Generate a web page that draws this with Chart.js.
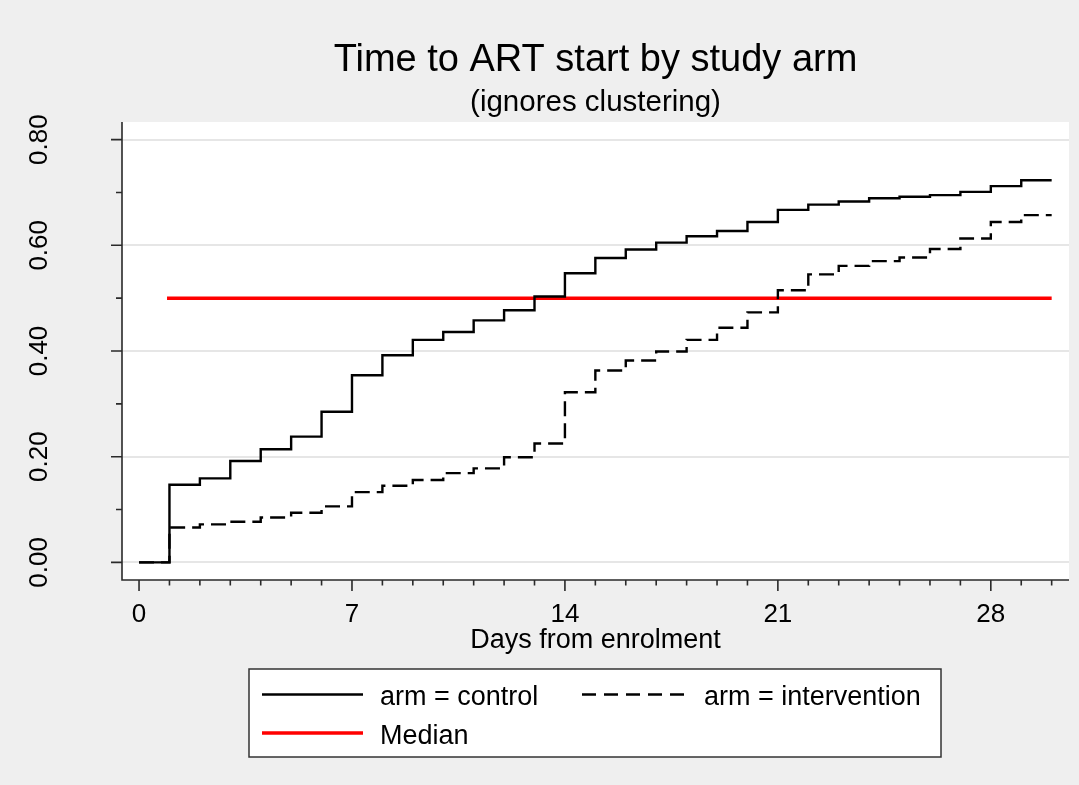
<!DOCTYPE html>
<html>
<head>
<meta charset="utf-8">
<script src="https://cdn.jsdelivr.net/npm/chart.js@4/dist/chart.umd.min.js"></script>
<style>
  html, body { margin: 0; padding: 0; background: #efefef; }
  #wrap { width: 1079px; height: 785px; position: relative; }
</style>
</head>
<body>
<div id="wrap"><canvas id="chart" width="1079" height="785"></canvas></div>
<script>
// ---------- data ----------
const days = [0,1,2,3,4,5,6,7,8,9,10,11,12,13,14,15,16,17,18,19,20,21,22,23,24,25,26,27,28,29,30];
const controlRisk = [0,0.147,0.159,0.192,0.214,0.238,0.285,0.354,0.392,0.421,0.436,0.458,0.477,0.503,0.547,0.576,0.592,0.605,0.617,0.627,0.644,0.667,0.677,0.683,0.689,0.692,0.695,0.701,0.712,0.723,0.723];
const interventionRisk = [0,0.066,0.072,0.077,0.085,0.094,0.106,0.133,0.145,0.156,0.169,0.178,0.199,0.225,0.322,0.363,0.382,0.399,0.421,0.444,0.473,0.515,0.545,0.561,0.570,0.577,0.593,0.613,0.644,0.657,0.657];
const medianDays = [0.92, 30];
const medianValues = [0.5, 0.5];

const xMajorTicks = [0, 7, 14, 21, 28];
const xMinorTicks = [1,2,3,4,5,6,8,9,10,11,12,13,15,16,17,18,19,20,22,23,24,25,26,27,29,30];
const yMajorTicks = [0, 0.2, 0.4, 0.6, 0.8];
const yTickLabels = ['0.00', '0.20', '0.40', '0.60', '0.80'];
const yMinorTicks = [0.1, 0.3, 0.5, 0.7];

const titleText = 'Time to ART start by study arm';
const subtitleText = '(ignores clustering)';
const xAxisTitle = 'Days from enrolment';
const seriesLabels = ['arm = control', 'arm = intervention', 'Median'];

// ---------- build datasets ----------
const toPoints = (xs, ys) => xs.map((x, i) => ({ x: x, y: ys[i] }));
const FONT = "'Liberation Sans', Arial, Helvetica, sans-serif";

const bgPlugin = {
  id: 'bg',
  beforeDraw(chart) {
    const { ctx, chartArea: a } = chart;
    ctx.save();
    ctx.fillStyle = '#efefef';
    ctx.fillRect(0, 0, chart.width, chart.height);
    ctx.fillStyle = '#ffffff';
    ctx.fillRect(a.left, a.top, a.right - a.left, a.bottom - a.top);
    ctx.restore();
  }
};

const decorPlugin = {
  id: 'decor',
  afterDraw(chart) {
    const { ctx, chartArea: a } = chart;
    const xs = chart.scales.x, ys = chart.scales.y;
    ctx.save();
    // axis lines
    ctx.strokeStyle = '#2a2a2a';
    ctx.lineWidth = 1.6;
    ctx.beginPath();
    ctx.moveTo(a.left, a.top);
    ctx.lineTo(a.left, a.bottom);
    ctx.lineTo(a.right, a.bottom);
    ctx.stroke();
    // y ticks
    ctx.beginPath();
    yMajorTicks.forEach(v => { const p = ys.getPixelForValue(v); ctx.moveTo(a.left - 11, p); ctx.lineTo(a.left, p); });
    yMinorTicks.forEach(v => { const p = ys.getPixelForValue(v); ctx.moveTo(a.left - 6, p); ctx.lineTo(a.left, p); });
    // x ticks
    xMajorTicks.forEach(v => { const p = xs.getPixelForValue(v); ctx.moveTo(p, a.bottom); ctx.lineTo(p, a.bottom + 11); });
    xMinorTicks.forEach(v => { const p = xs.getPixelForValue(v); ctx.moveTo(p, a.bottom); ctx.lineTo(p, a.bottom + 5.5); });
    ctx.stroke();

    ctx.fillStyle = '#000';
    // x tick labels
    ctx.font = '26px ' + FONT;
    ctx.textAlign = 'center';
    ctx.textBaseline = 'alphabetic';
    xMajorTicks.forEach(v => ctx.fillText(String(v), xs.getPixelForValue(v), a.bottom + 42));
    // y tick labels (rotated)
    yMajorTicks.forEach((v, i) => {
      const p = ys.getPixelForValue(v);
      ctx.save();
      ctx.translate(46.5, p);
      ctx.rotate(-Math.PI / 2);
      ctx.fillText(yTickLabels[i], 0, 0);
      ctx.restore();
    });
    // x axis title
    const cx = (a.left + a.right) / 2;
    ctx.font = '27px ' + FONT;
    ctx.fillText(xAxisTitle, cx, 648);
    // title & subtitle
    ctx.font = '38px ' + FONT;
    ctx.fillText(titleText, cx, 71);
    ctx.font = '29.5px ' + FONT;
    ctx.fillText(subtitleText, cx, 111);

    // legend box
    ctx.fillStyle = '#ffffff';
    ctx.fillRect(249, 669, 692, 88);
    ctx.strokeStyle = '#333';
    ctx.lineWidth = 1.5;
    ctx.strokeRect(249, 669, 692, 88);
    const ds = chart.data.datasets;
    const items = [
      { ds: ds[0], x: 262, y: 694.5, tx: 380, len: 101, dash: [] },
      { ds: ds[1], x: 582, y: 694.5, tx: 704, len: 104, dash: [14, 8] },
      { ds: ds[2], x: 262, y: 733, tx: 380, len: 101, dash: [] }
    ];
    items.forEach((it, i) => {
      ctx.save();
      ctx.strokeStyle = it.ds.borderColor;
      ctx.lineWidth = it.ds.borderWidth;
      ctx.setLineDash(it.dash);
      ctx.lineCap = 'butt';
      ctx.beginPath();
      ctx.moveTo(it.x, it.y);
      ctx.lineTo(it.x + it.len, it.y);
      ctx.stroke();
      ctx.restore();
      ctx.fillStyle = '#000';
      ctx.font = '27px ' + FONT;
      ctx.textAlign = 'left';
      ctx.textBaseline = 'alphabetic';
      ctx.fillText(seriesLabels[i], it.tx, it.y + 10.5);
    });
    ctx.restore();
  }
};

new Chart(document.getElementById('chart'), {
  type: 'line',
  data: {
    datasets: [
      { label: seriesLabels[0], data: toPoints(days, controlRisk), stepped: 'before',
        borderColor: '#000000', borderWidth: 2.4, pointRadius: 0, fill: false,
        borderJoinStyle: 'miter', borderCapStyle: 'butt' },
      { label: seriesLabels[1], data: toPoints(days, interventionRisk), stepped: 'before',
        borderColor: '#000000', borderWidth: 2.4, borderDash: [15, 7], pointRadius: 0, fill: false,
        borderJoinStyle: 'miter', borderCapStyle: 'butt' },
      { label: seriesLabels[2], data: toPoints(medianDays, medianValues),
        borderColor: '#ff0000', borderWidth: 3.5, pointRadius: 0, fill: false,
        borderCapStyle: 'butt' }
    ]
  },
  options: {
    responsive: false,
    animation: false,
    events: [],
    layout: { padding: { left: 122, top: 122, right: 10, bottom: 205 } },
    plugins: { legend: { display: false }, title: { display: false }, tooltip: { enabled: false } },
    scales: {
      x: {
        type: 'linear', min: -0.56, max: 30.57,
        ticks: { display: false },
        grid: { display: false, drawTicks: false },
        border: { display: false }
      },
      y: {
        type: 'linear', min: -0.0333, max: 0.8333,
        afterBuildTicks: (scale) => { scale.ticks = yMajorTicks.map(v => ({ value: v })); },
        ticks: { display: false },
        grid: { color: '#e6e6e6', lineWidth: 2, drawTicks: false },
        border: { display: false }
      }
    }
  },
  plugins: [bgPlugin, decorPlugin]
});
</script>
</body>
</html>
